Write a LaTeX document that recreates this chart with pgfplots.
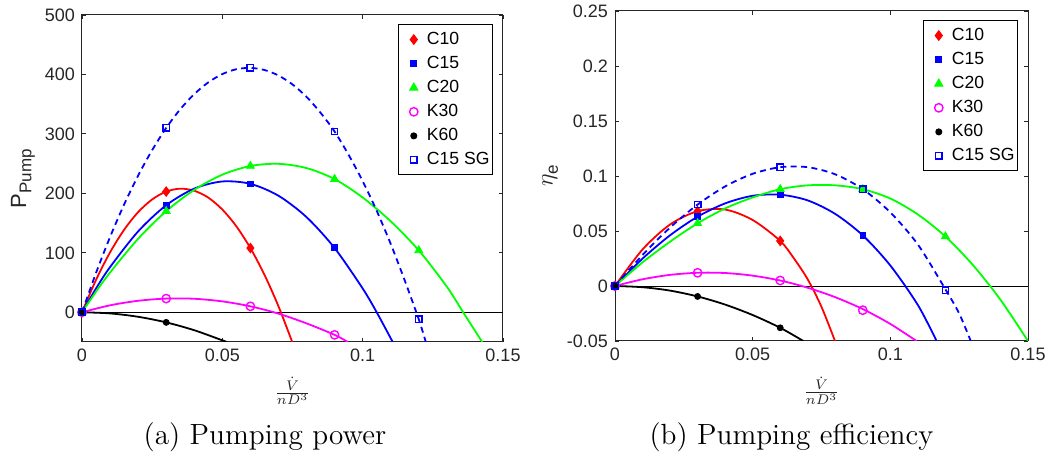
\documentclass[border=0pt]{standalone}
\usepackage{fontspec}
\setsansfont{Liberation Sans}
\usepackage{pgfplots}
\pgfplotsset{compat=1.18}

\colorlet{axgray}{black!85}
\definecolor{mmag}{rgb}{1,0,1}
\definecolor{mgreen}{rgb}{0,1,0}

\pgfplotsset{
  mat/.style={
    scale only axis,
    axis line style={axgray, line width=0.5pt},
    major tick style={axgray, line width=0.4pt},
    major tick length=2.2pt,
    tick align=inside,
    tick label style={font=\sffamily\fontsize{9}{10}\selectfont, text=axgray},
    xmin=0, xmax=0.15,
    xtick={0,0.05,0.1,0.15},
    xticklabels={0,0.05,0.1,0.15},
    label style={text=axgray},
    legend image code/.code={\path (-6.3pt,0pt) (5.8pt,0pt); \draw[##1] plot coordinates {(0pt,0pt)};},
    legend style={draw=black, line width=0.5pt, fill=white,
      font=\sffamily\fontsize{8.8}{10}\selectfont, text=black,
      at={(1,1)}, anchor=north east, xshift=-5pt, yshift=-4.7pt,
      nodes={inner xsep=0.5pt, inner ysep=0.5pt},
      row sep=3.4pt, inner xsep=1pt, inner ysep=3pt},
    legend cell align=left,
  },
  crv/.style={line width=0.9pt, smooth, forget plot},
}

\begin{document}
\begin{tikzpicture}
\useasboundingbox (-41pt,-58pt) rectangle (490pt,171pt);

% ---- (a) pumping power ----
\begin{axis}[mat, at={(0pt,0pt)}, anchor=south west,
  width=210.5pt, height=163.5pt,
  ymin=-50, ymax=500, ytick={0,100,200,300,400,500},
  yticklabels={0,100,200,300,400,500},
  ylabel={\sffamily\fontsize{11}{12}\selectfont P\raisebox{-0.45ex}{\fontsize{8.5}{9}\selectfont Pump}},
  ylabel style={at={(axis description cs:-0.14,0.5)}, anchor=center},
  xlabel={\fontsize{9.5}{11}\selectfont$\frac{\dot V}{nD^3}$},
  xlabel style={at={(axis description cs:0.5,-0.15)}, anchor=center},
]
\addplot[black, line width=0.4pt, forget plot] coordinates {(0,0) (0.15,0)};
% fitted curves
\addplot[red, crv] coordinates {(0,0) (0.005,54.5) (0.01,100.8) (0.015,138.7) (0.02,168.4) (0.025,189.8) (0.03,203) (0.035,207.9) (0.04,204.4) (0.045,192.8) (0.05,172.8) (0.055,144.5) (0.06,108) (0.065,63.1) (0.07,10.1) (0.0749,-50)};
\addplot[blue, crv] coordinates {(0,0) (0.005,40) (0.01,76) (0.02,136) (0.03,180) (0.04,208) (0.05,220) (0.06,216) (0.07,196) (0.08,160) (0.09,108) (0.1,40) (0.105,0) (0.1107,-50)};
\addplot[mgreen, crv] coordinates {(0,0) (0.005,34.7) (0.01,66.9) (0.02,123.6) (0.03,170) (0.04,205.9) (0.05,231.4) (0.06,246) (0.07,249.7) (0.08,242.5) (0.09,224) (0.1,193) (0.11,153) (0.12,104) (0.13,43) (0.1358,0) (0.1426,-50)};
\addplot[mmag, crv] coordinates {(0,0) (0.01,11.7) (0.02,19.3) (0.03,23) (0.04,22.7) (0.05,18.3) (0.06,10) (0.07,-2.3) (0.08,-18.7) (0.09,-38) (0.0947,-50)};
\addplot[black, crv] coordinates {(0,0) (0.01,-1.9) (0.02,-7.6) (0.03,-17) (0.04,-30.2) (0.05,-47.2) (0.0516,-50)};
\addplot[blue, crv, dash pattern=on 3pt off 2.2pt] coordinates {(0,0) (0.005,66.2) (0.01,126.6) (0.015,181.2) (0.02,229.9) (0.025,272.8) (0.03,310) (0.035,341.4) (0.04,366.9) (0.045,386.7) (0.05,400.6) (0.055,408.8) (0.06,411) (0.065,407.5) (0.07,398.2) (0.075,383.2) (0.08,362.3) (0.085,335.5) (0.09,304) (0.095,264.7) (0.1,220.6) (0.105,170.7) (0.11,114.9) (0.115,53.4) (0.12,-12) (0.1225,-50)};
% measured points
\addplot[red, only marks, mark=diamond*, mark size=2.4pt] coordinates {(0,0) (0.03,203) (0.06,108)};
\addplot[blue, only marks, mark=square*, mark size=1.4pt] coordinates {(0,0) (0.03,180) (0.06,216) (0.09,109)};
\addplot[mgreen, only marks, mark=triangle*, mark size=2.3pt] coordinates {(0,0) (0.03,170) (0.06,246) (0.09,224) (0.12,104)};
\addplot[mmag, only marks, mark=o, mark size=2.1pt, mark options={line width=0.7pt}] coordinates {(0,0) (0.03,23) (0.06,10) (0.09,-38)};
\addplot[black, only marks, mark=*, mark size=1.5pt] coordinates {(0,0) (0.03,-17)};
\addplot[blue, only marks, mark=square, mark size=1.6pt, mark options={line width=0.7pt}] coordinates {(0,0) (0.03,310) (0.06,411) (0.09,304) (0.12,-12)};
\legend{C10, C15, C20, K30, K60, C15 SG}
\end{axis}

% ---- (b) pumping efficiency ----
\begin{axis}[mat, at={(266.5pt,0.5pt)}, anchor=south west,
  width=206.5pt, height=165pt,
  ymin=-0.05, ymax=0.25, ytick={-0.05,0,0.05,0.1,0.15,0.2,0.25},
  yticklabels={-0.05,0,0.05,0.1,0.15,0.2,0.25},
  ylabel={\fontsize{12}{13}\selectfont$\eta$\raisebox{-0.5ex}{\sffamily\fontsize{8.5}{9}\selectfont e}},
  ylabel style={at={(axis description cs:-0.157,0.5)}, anchor=center},
  xlabel={\fontsize{9.5}{11}\selectfont$\frac{\dot V}{nD^3}$},
  xlabel style={at={(axis description cs:0.5,-0.15)}, anchor=center},
]
\addplot[black, line width=0.4pt, forget plot] coordinates {(0,0) (0.15,0)};
\addplot[red, crv] coordinates {(0,0) (0.01,0.0332) (0.02,0.0559) (0.03,0.068) (0.04,0.0695) (0.05,0.060) (0.06,0.041) (0.065,0.025) (0.07,0.006) (0.075,-0.019) (0.0799,-0.05)};
\addplot[blue, crv] coordinates {(0,0) (0.01,0.0249) (0.02,0.0461) (0.03,0.063) (0.04,0.0751) (0.05,0.0820) (0.06,0.083) (0.07,0.0778) (0.08,0.0655) (0.09,0.046) (0.1,0.0186) (0.11,-0.0173) (0.1168,-0.05)};
\addplot[mgreen, crv] coordinates {(0,0) (0.01,0.0215) (0.02,0.0403) (0.03,0.057) (0.04,0.0705) (0.05,0.0805) (0.06,0.088) (0.07,0.0915) (0.08,0.0915) (0.09,0.088) (0.1,0.0795) (0.11,0.065) (0.12,0.045) (0.13,0.019) (0.14,-0.0125) (0.15,-0.05)};
\addplot[mmag, crv] coordinates {(0,0) (0.01,0.0061) (0.02,0.0101) (0.03,0.012) (0.04,0.0118) (0.05,0.0094) (0.06,0.005) (0.07,-0.0016) (0.08,-0.0102) (0.09,-0.021) (0.1,-0.0345) (0.1095,-0.05)};
\addplot[black, crv] coordinates {(0,0) (0.01,-0.0011) (0.02,-0.0042) (0.03,-0.0095) (0.04,-0.0169) (0.05,-0.0264) (0.06,-0.038) (0.0684,-0.05)};
\addplot[blue, crv, dash pattern=on 3pt off 2.2pt] coordinates {(0,0) (0.01,0.0282) (0.02,0.0531) (0.03,0.074) (0.04,0.0905) (0.05,0.102) (0.06,0.108) (0.07,0.108) (0.08,0.1015) (0.09,0.088) (0.1,0.0669) (0.11,0.0377) (0.12,-0.003) (0.125,-0.025) (0.1292,-0.05)};
\addplot[red, only marks, mark=diamond*, mark size=2.4pt] coordinates {(0,0) (0.03,0.068) (0.06,0.041)};
\addplot[blue, only marks, mark=square*, mark size=1.4pt] coordinates {(0,0) (0.03,0.063) (0.06,0.083) (0.09,0.046)};
\addplot[mgreen, only marks, mark=triangle*, mark size=2.3pt] coordinates {(0,0) (0.03,0.057) (0.06,0.088) (0.09,0.088) (0.12,0.045)};
\addplot[mmag, only marks, mark=o, mark size=2.1pt, mark options={line width=0.7pt}] coordinates {(0,0) (0.03,0.012) (0.06,0.005) (0.09,-0.022)};
\addplot[black, only marks, mark=*, mark size=1.5pt] coordinates {(0,0) (0.03,-0.0095) (0.06,-0.038)};
\addplot[blue, only marks, mark=square, mark size=1.6pt, mark options={line width=0.7pt}] coordinates {(0,0) (0.03,0.074) (0.06,0.108) (0.09,0.088) (0.12,-0.004)};
\legend{C10, C15, C20, K30, K60, C15 SG}
\end{axis}

\node[font=\fontsize{14.6}{17}\selectfont] at (91.5pt,-47.5pt) {(a) Pumping power};
\node[font=\fontsize{14.6}{17}\selectfont] at (354.75pt,-47.5pt) {(b) Pumping efficiency};
\end{tikzpicture}
\end{document}
